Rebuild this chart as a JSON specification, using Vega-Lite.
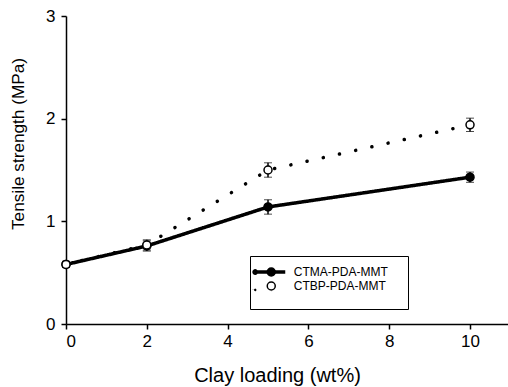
{
  "$schema": "https://vega.github.io/schema/vega-lite/v6.json",
  "width": 442,
  "height": 308,
  "autosize": "none",
  "padding": {"left": 66, "top": 16, "right": 0, "bottom": 63},
  "background": "white",
  "config": {
    "view": {"stroke": null},
    "font": "Liberation Sans",
    "axis": {
      "grid": false,
      "domainColor": "black",
      "domainWidth": 1.5,
      "tickColor": "black",
      "tickWidth": 1.5,
      "tickSize": 5,
      "labelFont": "Liberation Sans",
      "labelFontSize": 17,
      "labelColor": "black",
      "titleFont": "Liberation Sans",
      "titleFontWeight": "normal",
      "titleColor": "black"
    },
    "axisX": {"labelPadding": 4, "titleFontSize": 20, "titleBaseline": "alphabetic", "titleX": 211, "titleY": 57},
    "axisY": {"labelPadding": 6, "titleFontSize": 17.2, "titleBaseline": "alphabetic", "titleX": -42.5, "titleY": 127.5}
  },
  "data": {
    "values": [
      {"series": "CTMA-PDA-MMT", "clay": 0, "strength": 0.58, "err": 0.03},
      {"series": "CTMA-PDA-MMT", "clay": 2, "strength": 0.76, "err": 0.05},
      {"series": "CTMA-PDA-MMT", "clay": 5, "strength": 1.14, "err": 0.07},
      {"series": "CTMA-PDA-MMT", "clay": 10, "strength": 1.43, "err": 0.05},
      {"series": "CTBP-PDA-MMT", "clay": 0, "strength": 0.58, "err": 0.03},
      {"series": "CTBP-PDA-MMT", "clay": 2, "strength": 0.77, "err": 0.05},
      {"series": "CTBP-PDA-MMT", "clay": 5, "strength": 1.5, "err": 0.07},
      {"series": "CTBP-PDA-MMT", "clay": 10, "strength": 1.94, "err": 0.065}
    ]
  },
  "encoding": {
    "x": {
      "field": "clay",
      "type": "quantitative",
      "scale": {"domain": [0, 10.94], "nice": false, "zero": false},
      "axis": {"values": [0, 2, 4, 6, 8, 10], "title": "Clay loading (wt%)"}
    },
    "y": {
      "field": "strength",
      "type": "quantitative",
      "scale": {"domain": [0, 3], "nice": false},
      "axis": {"values": [0, 1, 2, 3], "title": "Tensile strength (MPa)"}
    }
  },
  "layer": [
    {
      "data": {"values": [{}]},
      "mark": {"type": "rule", "color": "black", "strokeWidth": 1},
      "encoding": {
        "x": {"datum": 0, "type": "quantitative"},
        "x2": {"datum": 10.94},
        "y": {"datum": 3, "type": "quantitative"}
      }
    },
    {
      "mark": {"type": "line", "color": "black", "strokeWidth": 3.5, "strokeCap": "round"},
      "encoding": {
        "strokeDash": {
          "field": "series",
          "type": "nominal",
          "scale": {
            "domain": ["CTMA-PDA-MMT", "CTBP-PDA-MMT"],
            "range": [[1, 0], [0.1, 16.5]]
          },
          "legend": {
            "orient": "none",
            "legendX": 184,
            "legendY": 240,
            "title": null,
            "symbolType": "M-3.75,0H3.75M-4.05,0A0.3,0.3,0,1,1,-3.45,0A0.3,0.3,0,1,1,-4.05,0Z",
            "symbolSize": 64,
            "symbolStrokeWidth": 3.5,
            "symbolStrokeColor": "black",
            "symbolFillColor": "black",
            "symbolOffset": 4.25,
            "labelFontSize": 12,
            "labelOpacity": 0,
            "labelOffset": 27.5,
            "rowPadding": 0,
            "padding": 10,
            "strokeColor": "black",
            "fillColor": "white",
            "zindex": 0
          }
        }
      }
    },
    {
      "mark": {
        "type": "errorbar",
        "ticks": {"size": 8, "color": "black", "strokeWidth": 1.5},
        "rule": {"color": "black", "strokeWidth": 1.5}
      },
      "encoding": {
        "yError": {"field": "err"}
      }
    },
    {
      "mark": {"type": "point", "shape": "circle", "filled": true, "size": 64, "stroke": "black", "strokeWidth": 1.5, "opacity": 1},
      "encoding": {
        "fill": {
          "field": "series",
          "type": "nominal",
          "sort": "descending",
          "scale": {"range": ["black", "white"]},
          "legend": {
            "orient": "none",
            "legendX": 184,
            "legendY": 240,
            "title": null,
            "symbolType": "circle",
            "symbolSize": 64,
            "symbolStrokeWidth": 1.5,
            "symbolStrokeColor": "black",
            "symbolOffset": 5.25,
            "labelFont": "Liberation Sans",
            "labelFontSize": 12,
            "labelColor": "black",
            "labelOffset": 16.5,
            "rowPadding": 0,
            "padding": 10,
            "strokeColor": null,
            "fillColor": null,
            "zindex": 1
          }
        }
      }
    }
  ]
}
